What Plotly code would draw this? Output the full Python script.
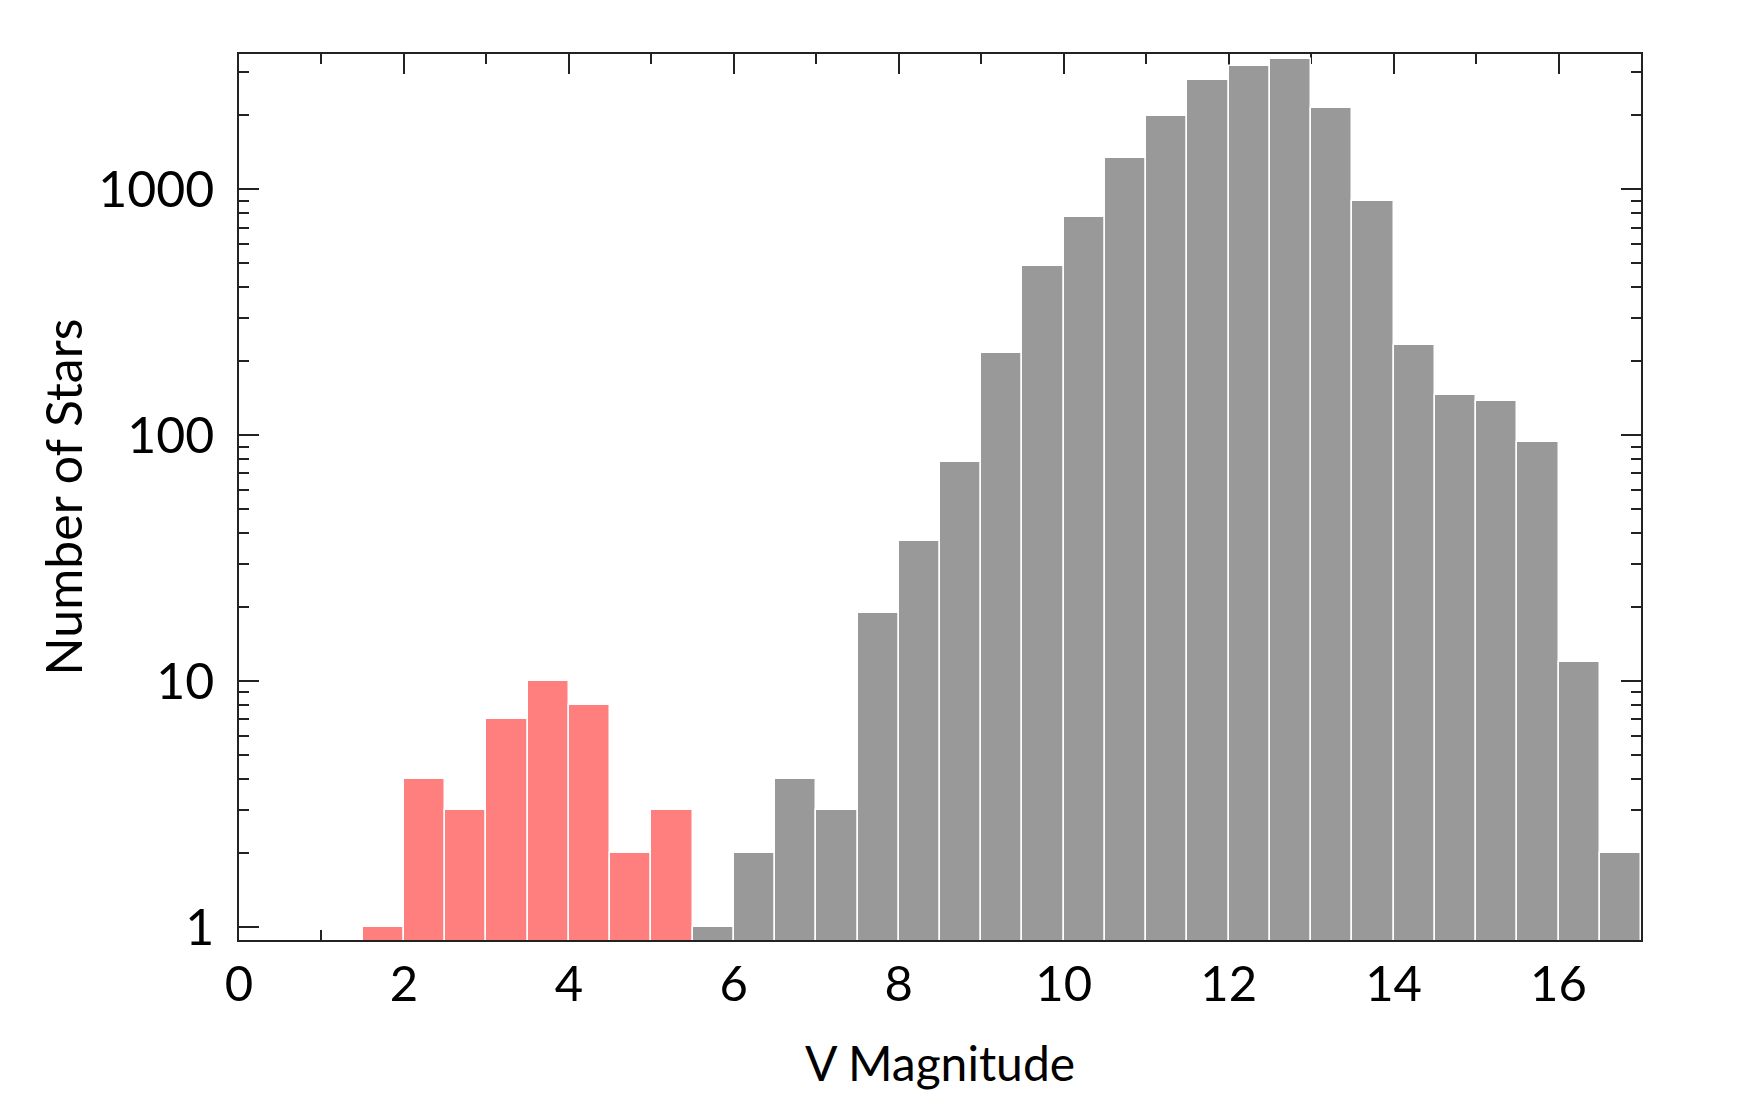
import plotly.graph_objects as go

# Histogram bins (width 0.5 mag)
red_centers = [1.75, 2.25, 2.75, 3.25, 3.75, 4.25, 4.75, 5.25]
red_counts = [1, 4, 3, 7, 10, 8, 2, 3]

gray_centers = [5.75, 6.25, 6.75, 7.25, 7.75, 8.25, 8.75, 9.25, 9.75, 10.25,
                10.75, 11.25, 11.75, 12.25, 12.75, 13.25, 13.75, 14.25, 14.75,
                15.25, 15.75, 16.25, 16.75]
gray_counts = [1, 2, 4, 3, 19, 37, 78, 216, 486, 770, 1342, 1982, 2786, 3185,
               3393, 2148, 900, 233, 146, 138, 94, 12, 2]

x_major = [0, 2, 4, 6, 8, 10, 12, 14, 16]
y_major = [1, 10, 100, 1000]
y_major_labels = ["1", "10", "100", "1000"]
y_minor = [m * d for d in [1, 10, 100, 1000] for m in range(2, 10)]

FONT = "Lato"

fig = go.Figure()
fig.add_trace(go.Bar(x=red_centers, y=red_counts, width=0.5,
                     marker=dict(color="#FF7F7F", line=dict(color="white", width=1.5)),
                     showlegend=False))
fig.add_trace(go.Bar(x=gray_centers, y=gray_counts, width=0.5,
                     marker=dict(color="#999999", line=dict(color="white", width=1.5)),
                     showlegend=False))

fig.update_layout(
    width=1763, height=1096,
    margin=dict(l=239, r=122, t=54, b=156),
    paper_bgcolor="white", plot_bgcolor="white",
    bargap=0,
    font=dict(family=FONT, size=48, color="black"),
    xaxis=dict(
        range=[0, 17],
        tickvals=x_major, ticktext=[str(v) for v in x_major],
        ticks="inside", ticklen=20, tickwidth=1.5, tickcolor="#222",
        minor=dict(dtick=1, tick0=0, ticks="inside", ticklen=10, tickwidth=1.5, tickcolor="#222"),
        showline=True, linecolor="#222", linewidth=1.5, mirror="ticks",
        showgrid=False, zeroline=False,
        layer="below traces",
        tickfont=dict(family=FONT, size=49),
        title=dict(text="V Magnitude", font=dict(family=FONT, size=48), standoff=38),
    ),
    yaxis=dict(
        type="log",
        range=[-0.0525, 3.5508],
        tickvals=y_major, ticktext=y_major_labels,
        ticks="inside", ticklen=20, tickwidth=1.5, tickcolor="#222",
        minor=dict(tickvals=y_minor, ticks="inside", ticklen=10, tickwidth=1.5, tickcolor="#222"),
        showline=True, linecolor="#222", linewidth=1.5, mirror="ticks",
        showgrid=False, zeroline=False,
        layer="below traces",
        ticklabelstandoff=13,
        tickfont=dict(family=FONT, size=50),
        title=dict(text="Number of Stars", font=dict(family=FONT, size=50), standoff=0),
    ),
)

fig.write_html("out.html")
